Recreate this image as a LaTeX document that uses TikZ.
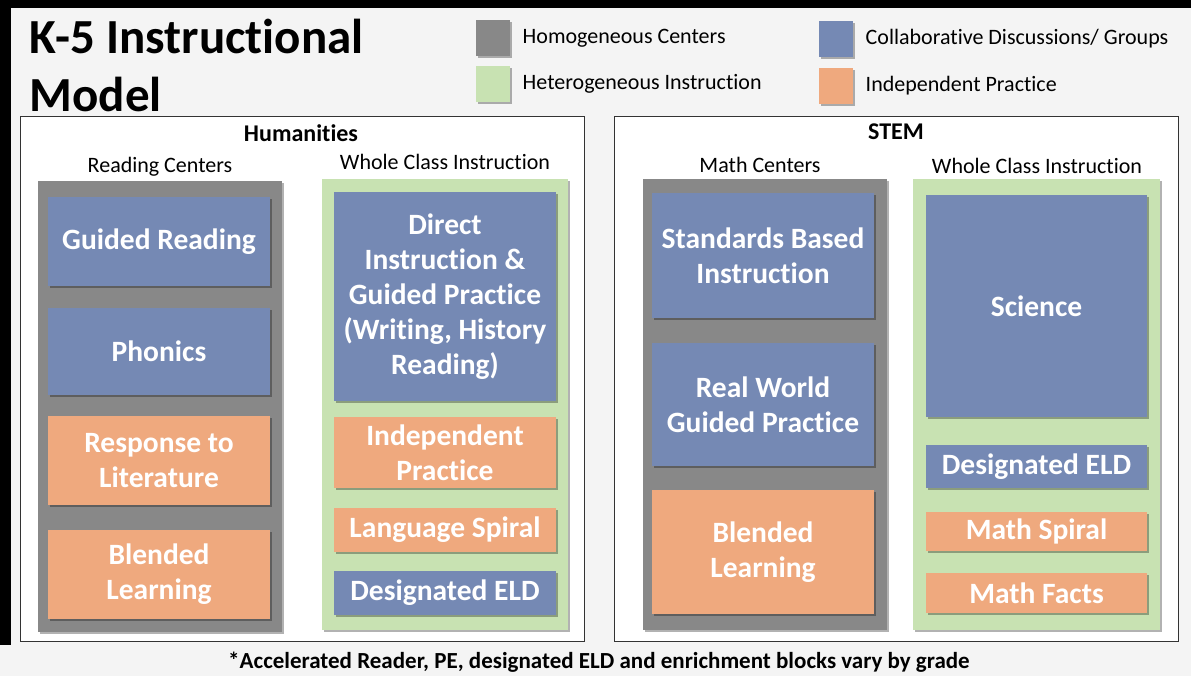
\documentclass[tikz,border=0pt]{standalone}
\usepackage{fontspec}
\setmainfont{Carlito}[Ligatures={NoCommon}]
\usetikzlibrary{positioning,shadows}

\definecolor{pagebg}{HTML}{F4F4F4}
\definecolor{blockblue}{HTML}{7589B4}
\definecolor{blockorange}{HTML}{EFA97E}
\definecolor{colgray}{HTML}{888888}
\definecolor{colgreen}{HTML}{C8E2B2}
\definecolor{panelline}{HTML}{333333}

\tikzset{
  softshadow/.style={drop shadow={shadow xshift=1.5pt,shadow yshift=-2pt,fill=black,opacity=.3}},
  column/.style={rectangle,inner sep=0pt,minimum height=451pt,softshadow},
  graycolumn/.style={column,fill=colgray},
  greencolumn/.style={column,fill=colgreen},
  block/.style={rectangle,inner sep=0pt,align=center,text=white,softshadow,
    font=\fontsize{29.5}{35}\selectfont\bfseries},
  blueblock/.style={block,fill=blockblue},
  orangeblock/.style={block,fill=blockorange},
  panel/.style={rectangle,draw=panelline,line width=1pt,fill=white,
    minimum width=564pt,minimum height=524pt},
  heading/.style={font=\fontsize{22}{26}\selectfont},
  boldheading/.style={font=\fontsize{24}{28}\selectfont\bfseries},
  keysquare/.style={rectangle,inner sep=0pt,minimum width=34pt,minimum height=36pt,softshadow},
  keytext/.style={font=\fontsize{22}{26}\selectfont,right=9pt of #1}
}

\begin{document}
\begin{tikzpicture}[x=1pt,y=-1pt]
  \useasboundingbox (0,0) rectangle (1191,676);
  \fill[pagebg] (0,0) rectangle (1191,676);
  \fill[black] (0,0) rectangle (1191,8);
  \fill[black] (0,0) rectangle (11,645);

  \node[anchor=west,font=\fontsize{49}{58}\selectfont\bfseries] (title1) at (26,36) {K-5 Instructional};
  \node[anchor=west,font=\fontsize{49}{58}\selectfont\bfseries] (title2) at (26,94) {Model};

  \node[keysquare,fill=colgray] (kgray) at (493,38) {};
  \node[keysquare,fill=colgreen] (kgreen) at (493,84) {};
  \node[keysquare,fill=blockblue] (kblue) at (836,39) {};
  \node[keysquare,fill=blockorange] (korange) at (836,86) {};
  \node[keytext=kgray] (tgray) {Homogeneous Centers};
  \node[keytext=kgreen] (tgreen) {Heterogeneous Instruction};
  \node[keytext=kblue] (tblue) {Collaborative Discussions/ Groups};
  \node[keytext=korange] (torange) {Independent Practice};

  \node[panel] (hum) at (302,379) {};
  \node[panel] (stem) at (896,379) {};

  \node[boldheading] (humtitle) at (301,133) {Humanities};
  \node[heading] (readhead) at (160,167) {Reading Centers};
  \node[heading] (wholeh) at (445,162) {Whole Class Instruction};
  \node[boldheading] (stemtitle) at (896,132) {STEM};
  \node[heading] (mathhead) at (760,165) {Math Centers};
  \node[heading] (wholes) at (1037,166) {Whole Class Instruction};

  \node[graycolumn,minimum width=244pt] (readcol) at (160,406.5) {};
  \node[greencolumn,minimum width=246pt] (wholehcol) at (445,404.5) {};
  \node[graycolumn,minimum width=244pt] (mathcol) at (765,404.5) {};
  \node[greencolumn,minimum width=247pt] (wholescol) at (1036.5,404.5) {};

  \node[blueblock,minimum width=222pt,minimum height=89pt] (guided) at (159,241.5) {Guided Reading};
  \node[blueblock,minimum width=222pt,minimum height=87pt] (phonics) at (159,351.5) {Phonics};
  \node[orangeblock,minimum width=222pt,minimum height=89pt] (response) at (159,460.5) {Response to\\Literature};
  \node[orangeblock,minimum width=222pt,minimum height=89pt] (blendh) at (159,574.5) {Blended\\Learning};

  \node[blueblock,minimum width=222pt,minimum height=209pt] (direct) at (445,296.5)
    {Direct\\Instruction \&\\Guided Practice\\(Writing, History\\Reading)};
  \node[orangeblock,minimum width=222pt,minimum height=71pt] (indep) at (445,452.5) {Independent\\Practice};
  \node[orangeblock,minimum width=222pt,minimum height=44pt] (langspiral) at (445,530) {Language Spiral};
  \node[blueblock,minimum width=222pt,minimum height=44pt] (eldh) at (445,593) {Designated ELD};

  \node[blueblock,minimum width=222pt,minimum height=125pt] (standards) at (763,255.5) {Standards Based\\Instruction};
  \node[blueblock,minimum width=222pt,minimum height=123pt] (realworld) at (763,404.5) {Real World\\Guided Practice};
  \node[orangeblock,minimum width=222pt,minimum height=124pt] (blends) at (763,552) {Blended\\Learning};

  \node[blueblock,minimum width=221pt,minimum height=222pt] (science) at (1036.5,306) {Science};
  \node[blueblock,minimum width=221pt,minimum height=43pt] (elds) at (1036.5,466.5) {Designated ELD};
  \node[orangeblock,minimum width=221pt,minimum height=39pt] (mathspiral) at (1036.5,531.5) {Math Spiral};
  \node[orangeblock,minimum width=221pt,minimum height=40pt] (mathfacts) at (1036.5,593) {Math Facts};

  \node[font=\fontsize{23}{27}\selectfont\bfseries] (footnote) at (599,662) {*Accelerated Reader, PE, designated ELD and enrichment blocks vary by grade};
\end{tikzpicture}
\end{document}
